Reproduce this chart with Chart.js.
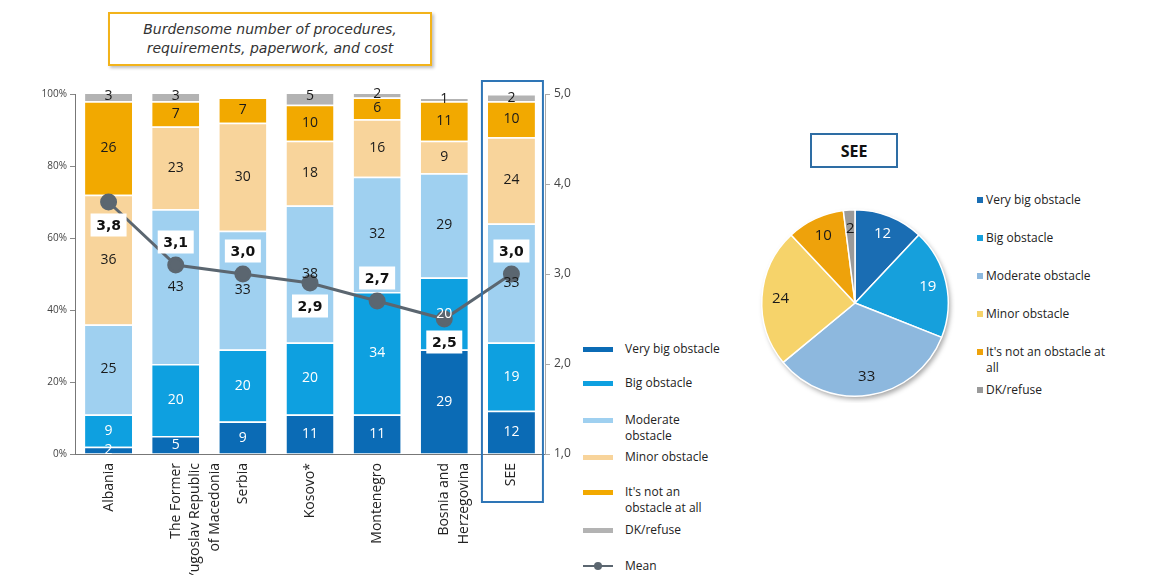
<!DOCTYPE html>
<html>
<head>
<meta charset="utf-8">
<script src="https://cdn.jsdelivr.net/npm/chart.js@4.4.1/dist/chart.umd.min.js"></script>
<style>
  html, body { margin: 0; padding: 0; background: #fff; }
  #wrap { position: relative; width: 1154px; height: 575px; overflow: hidden; font-family: "Open Sans", "DejaVu Sans", sans-serif; color: #222; }
  #title { position: absolute; left: 108px; top: 12px; width: 320px; height: 50px; border: 2px solid #f2b31b; box-shadow: 2px 2px 3px rgba(0,0,0,0.25); background: #fff;
           display: flex; align-items: center; justify-content: center; text-align: center; font-style: italic; font-size: 14px; line-height: 19px; color: #333; font-family: "DejaVu Sans", sans-serif; }
  #barCanvas { position: absolute; left: 0; top: 0; }
  #pieCanvas { position: absolute; left: 755px; top: 203px; }
  #seeBox { position: absolute; left: 810px; top: 133px; width: 84px; height: 31px; border: 2px solid #2e6da4; display: flex; align-items: center; justify-content: center; font-weight: bold; font-size: 16px; color: #111; }
  .leg { position: absolute; font-size: 12px; line-height: 16px; color: #222; }
  .leg .sw { position: absolute; left: 0; width: 30px; height: 5px; }
  .leg .tx { position: absolute; left: 42px; white-space: nowrap; }
  .pleg { position: absolute; font-size: 12px; line-height: 16px; color: #222; }
  .pleg .sq { position: absolute; left: 0; top: 5px; width: 6px; height: 6px; }
  .pleg .tx { position: absolute; left: 9px; white-space: nowrap; }
</style>
</head>
<body>
<div id="wrap">
  <div id="title">Burdensome number of procedures,<br>requirements, paperwork, and cost</div>
  <canvas id="barCanvas" width="580" height="575"></canvas>
  <div id="barLegend"></div>
  <div id="seeBox">SEE</div>
  <canvas id="pieCanvas" width="200" height="200"></canvas>
  <div id="pieLegend"></div>
</div>
<script>
// ---------------- DATA ----------------
const categories = ["Albania", ["The Former", "Yugoslav Republic", "of Macedonia"], "Serbia", "Kosovo*", "Montenegro", ["Bosnia and", "Herzegovina"], "SEE"];
const seriesNames = ["Very big obstacle", "Big obstacle", "Moderate obstacle", "Minor obstacle", "It's not an obstacle at all", "DK/refuse"];
const veryBig   = [2, 5, 9, 11, 11, 29, 12];
const big       = [9, 20, 20, 20, 34, 20, 19];
const moderate  = [25, 43, 33, 38, 32, 29, 33];
const minor     = [36, 23, 30, 18, 16, 9, 24];
const notObst   = [26, 7, 7, 10, 6, 11, 10];
const dkRefuse  = [3, 3, 0, 5, 2, 1, 2];
const meanVals  = [3.8, 3.1, 3.0, 2.9, 2.7, 2.5, 3.0];
const pieLabels = ["Very big obstacle", "Big obstacle", "Moderate obstacle", "Minor obstacle", "It's not an obstacle at all", "DK/refuse"];
const pieValues = [12, 19, 33, 24, 10, 2];
const leftTicks = [0, 20, 40, 60, 80, 100];
const rightTicks = [1, 2, 3, 4, 5];

// ---------------- STYLE ----------------
const barColors = ["#0b6bb5", "#0ea0e0", "#9fd0f0", "#f8d49b", "#f2a900", "#b3b3b3"];
const barLabelColors = ["#ffffff", "#ffffff", "#1a1a1a", "#1a1a1a", "#1a1a1a", "#1a1a1a"];
const pieColors = ["#1a6db3", "#16a0dc", "#8db8de", "#f6d36a", "#eea20b", "#9a9a9a"];
const pieLabelColors = ["#ffffff", "#ffffff", "#1a1a1a", "#1a1a1a", "#1a1a1a", "#1a1a1a"];
const meanColor = "#5b6670";
const meanLabelSide = [1, -1, -1, 1, -1, 1, -1]; // 1 = below point, -1 = above point
const highlightIndex = 6;

const seriesData = [veryBig, big, moderate, minor, notObst, dkRefuse];

Chart.defaults.font.family = '"Open Sans", "DejaVu Sans", sans-serif';
Chart.defaults.color = "#333";

const barLabelPlugin = {
  id: "barLabels",
  afterDatasetsDraw(chart) {
    const ctx = chart.ctx;
    ctx.save();
    ctx.textAlign = "center";
    ctx.textBaseline = "middle";
    ctx.font = '14px "Open Sans", sans-serif';
    chart.data.datasets.forEach((ds, di) => {
      if (ds.type === "line") return;
      const meta = chart.getDatasetMeta(di);
      meta.data.forEach((el, i) => {
        const v = ds.data[i];
        if (!v) return;
        ctx.fillStyle = barLabelColors[di];
        ctx.fillText(String(v), el.x, (el.y + el.base) / 2);
      });
    });
    // mean labels
    const li = chart.data.datasets.findIndex(d => d.type === "line");
    const lm = chart.getDatasetMeta(li);
    ctx.font = 'bold 14px "DejaVu Sans", sans-serif';
    lm.data.forEach((pt, i) => {
      const txt = meanVals[i].toFixed(1).replace(".", ",");
      const cy = pt.y + meanLabelSide[i] * 23;
      const w = 36, h = 23;
      ctx.fillStyle = "#ffffff";
      ctx.fillRect(pt.x - w / 2, cy - h / 2, w, h);
      ctx.fillStyle = "#111";
      ctx.fillText(txt, pt.x, cy + 1);
    });
    ctx.restore();
  },
  afterDraw(chart) {
    const meta = chart.getDatasetMeta(0);
    const el = meta.data[highlightIndex];
    if (!el) return;
    const ca = chart.chartArea;
    const ctx = chart.ctx;
    const half = el.width / 2 + 6;
    ctx.save();
    ctx.strokeStyle = "#2e75b6";
    ctx.lineWidth = 2;
    ctx.strokeRect(el.x - half, ca.top - 13, half * 2 + 2, ca.bottom - ca.top + 61);
    ctx.restore();
  }
};

const barDatasets = seriesData.map((arr, i) => ({
  type: "bar",
  label: seriesNames[i],
  data: arr,
  backgroundColor: barColors[i],
  borderColor: "#ffffff",
  borderWidth: { top: 1.5, bottom: 0, left: 0, right: 0 },
  borderSkipped: false,
  yAxisID: "y",
  stack: "s",
  order: 2,
  barPercentage: 0.7,
  categoryPercentage: 1.0
}));

const lineDataset = {
  type: "line",
  label: "Mean",
  data: meanVals,
  yAxisID: "y2",
  stack: "mean",
  borderColor: meanColor,
  backgroundColor: meanColor,
  borderWidth: 3,
  pointRadius: 7,
  pointBackgroundColor: meanColor,
  pointBorderColor: meanColor,
  tension: 0,
  order: 0
};

new Chart(document.getElementById("barCanvas"), {
  data: { labels: categories, datasets: [...barDatasets, lineDataset] },
  options: {
    responsive: false,
    devicePixelRatio: 1,
    animation: false,
    layout: { padding: { top: 94, left: 0, right: 0, bottom: 0 } },
    plugins: { legend: { display: false }, tooltip: { enabled: false } },
    scales: {
      x: {
        stacked: true,
        grid: { display: false, drawOnChartArea: false, drawTicks: true, tickLength: 5, color: "#888" },
        border: { color: "#777", width: 1 },
        ticks: { maxRotation: 90, minRotation: 90, autoSkip: false, color: "#222", font: { size: 14, lineHeight: 1.4 }, padding: 4 },
        afterFit(s) { s.height = 121; }
      },
      y: {
        stacked: true,
        position: "left",
        min: 0, max: 100,
        afterBuildTicks(s) { s.ticks = leftTicks.map(v => ({ value: v })); },
        ticks: { callback: v => v + "%", color: "#444", font: { size: 10 }, padding: 3 },
        grid: { drawOnChartArea: false, drawTicks: true, tickLength: 5, color: "#888" },
        border: { color: "#777", width: 1 },
        afterFit(s) { s.width = 75; }
      },
      y2: {
        stacked: false,
        position: "right",
        min: 1, max: 5,
        afterBuildTicks(s) { s.ticks = rightTicks.map(v => ({ value: v })); },
        ticks: { callback: v => Number(v).toFixed(1).replace(".", ","), color: "#444", font: { size: 12 }, padding: 4 },
        grid: { drawOnChartArea: false, drawTicks: true, tickLength: 5, color: "#aaa" },
        border: { color: "#aaa", width: 1 },
        afterFit(s) { s.width = 35; }
      }
    }
  },
  plugins: [barLabelPlugin]
});

// ---------------- PIE ----------------
const pieLabelPlugin = {
  id: "pieLabels",
  beforeDatasetsDraw(chart) {
    const el = chart.getDatasetMeta(0).data[0];
    if (!el) return;
    const ctx = chart.ctx;
    ctx.save();
    ctx.shadowColor = "rgba(0,0,0,0.35)";
    ctx.shadowBlur = 5;
    ctx.shadowOffsetX = 2;
    ctx.shadowOffsetY = 3;
    ctx.fillStyle = "#ffffff";
    ctx.beginPath();
    ctx.arc(el.x, el.y, el.outerRadius, 0, Math.PI * 2);
    ctx.fill();
    ctx.restore();
  },
  afterDatasetsDraw(chart) {
    const ctx = chart.ctx;
    const meta = chart.getDatasetMeta(0);
    ctx.save();
    ctx.textAlign = "center";
    ctx.textBaseline = "middle";
    ctx.font = '15px "Open Sans", sans-serif';
    meta.data.forEach((arc, i) => {
      const mid = (arc.startAngle + arc.endAngle) / 2;
      const r = arc.outerRadius * 0.8;
      ctx.fillStyle = pieLabelColors[i];
      ctx.fillText(String(pieValues[i]), arc.x + Math.cos(mid) * r, arc.y + Math.sin(mid) * r);
    });
    ctx.restore();
  }
};

new Chart(document.getElementById("pieCanvas"), {
  type: "pie",
  data: { labels: pieLabels, datasets: [{ data: pieValues, backgroundColor: pieColors, borderColor: "#ffffff", borderWidth: 1.5 }] },
  options: {
    responsive: false,
    devicePixelRatio: 1,
    animation: false,
    layout: { padding: 6 },
    plugins: { legend: { display: false }, tooltip: { enabled: false } }
  },
  plugins: [pieLabelPlugin]
});

// ---------------- HTML LEGENDS ----------------
const barLegendItems = [
  { text: "Very big obstacle", color: barColors[0], y: 341 },
  { text: "Big obstacle", color: barColors[1], y: 375 },
  { text: "Moderate<br>obstacle", color: barColors[2], y: 412 },
  { text: "Minor obstacle", color: barColors[3], y: 449 },
  { text: "It's not an<br>obstacle at all", color: barColors[4], y: 484 },
  { text: "DK/refuse", color: barColors[5], y: 522 }
];
const bl = document.getElementById("barLegend");
barLegendItems.forEach(it => {
  const d = document.createElement("div");
  d.className = "leg";
  d.style.left = "583px"; d.style.top = it.y + "px";
  d.innerHTML = '<div class="sw" style="top:6px;background:' + it.color + '"></div><div class="tx">' + it.text + "</div>";
  bl.appendChild(d);
});
const meanLeg = document.createElement("div");
meanLeg.className = "leg";
meanLeg.style.left = "583px"; meanLeg.style.top = "558px";
meanLeg.innerHTML = '<div style="position:absolute;left:0;top:7px;width:30px;height:2px;background:' + meanColor + '"></div>' +
  '<div style="position:absolute;left:11px;top:4px;width:8px;height:8px;border-radius:50%;background:' + meanColor + '"></div>' +
  '<div class="tx">Mean</div>';
bl.appendChild(meanLeg);

const pieLegendYs = [192, 230, 268, 306, 344, 382];
const pl = document.getElementById("pieLegend");
pieLabels.forEach((t, i) => {
  const d = document.createElement("div");
  d.className = "pleg";
  d.style.left = "977px"; d.style.top = pieLegendYs[i] + "px";
  const txt = i === 4 ? "It's not an obstacle at<br>all" : t;
  d.innerHTML = '<div class="sq" style="background:' + pieColors[i] + '"></div><div class="tx">' + txt + "</div>";
  pl.appendChild(d);
});
</script>
</body>
</html>
